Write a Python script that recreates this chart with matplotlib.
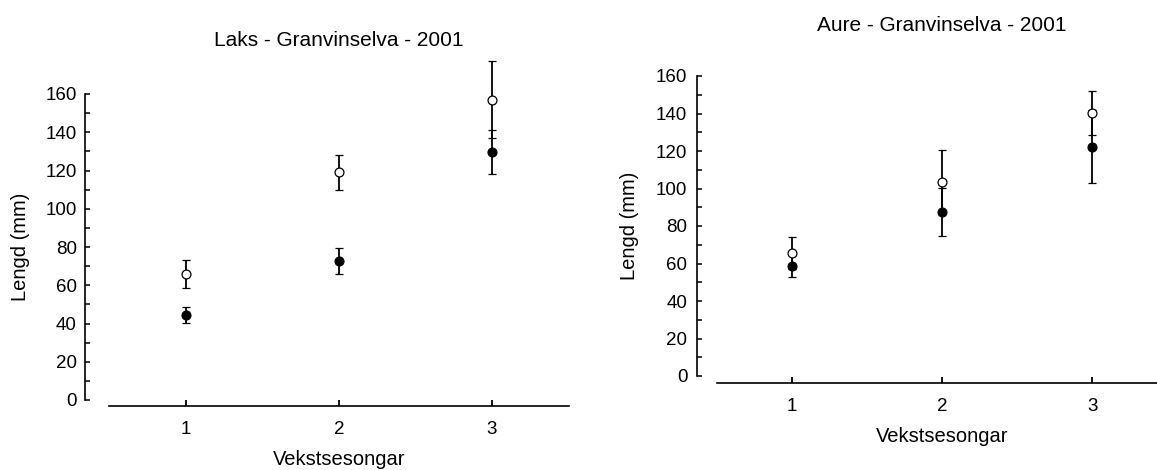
"""Mean length per growing season for salmon and trout, Granvinselva 2001."""

from matplotlib import pyplot
from matplotlib import transforms
import numpy

# Growing seasons on the x axis.
seasons = [1, 2, 3]

# Salmon (laks): open and filled series, means and error half-widths (mm).
laks_open = [65.7, 119.0, 157.0]
laks_open_err = [7.3, 9.0, 20.0]
laks_filled = [44.4, 72.8, 129.8]
laks_filled_err = [4.1, 6.7, 11.5]

# Trout (aure).
aure_open = [65.8, 103.3, 140.3]
aure_open_err = [8.5, 17.0, 11.8]
aure_filled = [58.9, 87.6, 122.4]
aure_filled_err = [6.3, 12.9, 19.7]

yticks = numpy.arange(0, 161, 20)

pyplot.rc('font', family=['Liberation Sans', 'DejaVu Sans'])

fig = pyplot.figure(figsize=(11.57, 4.70), dpi=100)
W, H = 1157.0, 470.0


def make_axes(px_left, px_right, px_top, px_bottom, xlim, ybottom):
    ax = fig.add_axes([px_left / W, 1 - px_bottom / H,
                       (px_right - px_left) / W, (px_bottom - px_top) / H])
    ax.set_xlim(*xlim)
    ax.set_ylim(ybottom, 160)
    return ax


def draw_panel(ax, title, opn, opn_err, fil, fil_err,
               title_y, xlabel_y, ylabel_x, ylabel_y, ytick_pad):
    err_kw = dict(fmt='o', color='black', ecolor='black', elinewidth=1.3,
                  capsize=3.0, capthick=1.3, markersize=6.4,
                  markeredgewidth=0.9, clip_on=False)
    ax.errorbar(seasons, fil, yerr=fil_err, markerfacecolor='black',
                markeredgecolor='black', zorder=3, **err_kw)
    ax.errorbar(seasons, opn, yerr=opn_err, markerfacecolor='white',
                markeredgecolor='black', zorder=4, **err_kw)

    ax.spines['top'].set_visible(False)
    ax.spines['right'].set_visible(False)
    ax.spines['left'].set_bounds(0, 160)
    ax.spines['bottom'].set_bounds(0.5, 3.5)
    for side in ('left', 'bottom'):
        ax.spines[side].set_linewidth(1.2)

    ax.set_yticks(yticks)
    ax.set_yticks(yticks[:-1] + 10, minor=True)
    ax.set_xticks(seasons)
    ax.tick_params(axis='y', which='both', direction='in', length=3.8,
                   width=1.1, labelsize=13.5, pad=ytick_pad)
    ax.tick_params(axis='x', direction='in', length=4.5, width=1.3,
                   labelsize=13.5, pad=11)

    # Title and x label centred over season 2.
    mid = (2 - ax.get_xlim()[0]) / (ax.get_xlim()[1] - ax.get_xlim()[0])
    trans = transforms.blended_transform_factory(ax.transData, ax.transAxes)
    ax.text(2, title_y, title, transform=trans, ha='center', va='center',
            fontsize=15)
    ax.set_xlabel('Vekstsesongar', fontsize=14.5)
    ax.xaxis.set_label_coords(mid, xlabel_y)
    ax.xaxis.label.set_va('center')
    ax.set_ylabel('Lengd (mm)', fontsize=14.5)
    ax.yaxis.set_label_coords(ylabel_x, ylabel_y)
    ax.yaxis.label.set_va('center')


ax1 = make_axes(85, 568.5, 94, 406, (0.34, 3.5), -6 / 1.9125)
draw_panel(ax1, 'Laks - Granvinselva - 2001', laks_open, laks_open_err,
           laks_filled, laks_filled_err,
           title_y=1.17, xlabel_y=-0.173, ylabel_x=-0.134, ylabel_y=0.51,
           ytick_pad=6)

ax2 = make_axes(697, 1157, 76, 383, (0.367, 3.433), -7 / 1.875)
draw_panel(ax2, 'Aure - Granvinselva - 2001', aure_open, aure_open_err,
           aure_filled, aure_filled_err,
           title_y=1.166, xlabel_y=-0.173, ylabel_x=-0.146, ylabel_y=0.511,
           ytick_pad=7)

fig.savefig('out.png', dpi=100)
